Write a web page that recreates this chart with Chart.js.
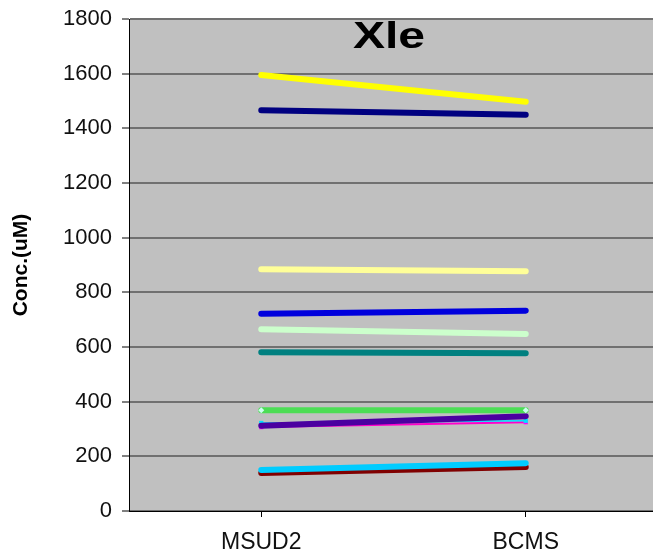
<!DOCTYPE html>
<html>
<head>
<meta charset="utf-8">
<script src="https://cdn.jsdelivr.net/npm/chart.js@4/dist/chart.umd.min.js"></script>
<style>
  html, body { margin: 0; padding: 0; background: #fff; overflow: hidden; }
  .wrap { width: 662px; height: 554px; position: relative; }
</style>
</head>
<body>
<div class="wrap"><canvas id="myChart"></canvas></div>
<script>
const groups = ['MSUD2', 'BCMS'];
const yTicks = [0, 200, 400, 600, 800, 1000, 1200, 1400, 1600, 1800];

// one pair of values per subject (MSUD2, BCMS)
const yellow = [1595, 1497];
const navy = [1466, 1450];
const paleYellow = [884, 877];
const blue = [722, 733];
const paleGreen = [665, 648];
const teal = [581, 577];
const green = [369, 369];
const purple = [312, 347];
const magenta = [307, 325];
const cyanThin = [322, 330];
const cyan = [150, 175];
const darkRed = [139, 161];

const bgPlugin = {
  id: 'bg',
  beforeDraw(chart) {
    const { ctx, chartArea: a } = chart;
    ctx.save();
    ctx.fillStyle = '#c0c0c0';
    ctx.fillRect(a.left, a.top, a.right - a.left, a.bottom - a.top);
    ctx.restore();
  },
  afterDraw(chart) {
    const ctx = chart.ctx;
    ctx.save();
    ctx.translate(389, 48);
    ctx.scale(1.3, 1);
    ctx.font = 'bold 37px "Liberation Sans", Arial, sans-serif';
    ctx.fillStyle = '#000';
    ctx.textAlign = 'center';
    ctx.textBaseline = 'alphabetic';
    ctx.fillText('Xle', 0, 0);
    ctx.restore();
  }
};

function line(values, color, width, extra) {
  return Object.assign({
    data: values,
    borderColor: color,
    backgroundColor: color,
    borderWidth: width,
    borderCapStyle: 'round',
    pointRadius: 0,
    tension: 0
  }, extra || {});
}

const data = {
  labels: groups,
  datasets: [
    line(yellow, '#ffff00', 6),
    line(navy, '#000080', 6),
    line(paleYellow, '#ffff99', 6),
    line(blue, '#0000dd', 6),
    line(paleGreen, '#ccffcc', 6),
    line(teal, '#008080', 6),
    line(green, '#4cdd55', 6, { pointRadius: 3, pointStyle: 'rectRot', pointBackgroundColor: '#ccffee', pointBorderWidth: 0 }),
    line(purple, '#4b00a0', 6),
    line(cyanThin, '#00e0ff', 1.5, { pointRadius: 3, pointStyle: 'rect', pointBackgroundColor: '#00e0ff', pointBorderWidth: 0 }),
    line(magenta, '#ff00cc', 2, { pointRadius: 3, pointStyle: 'rect', pointBackgroundColor: '#ff00ff', pointBorderWidth: 0 }),
    line(cyan, '#00ccff', 6),
    line(darkRed, '#800000', 6)
  ]
};

const options = {
  responsive: true,
  maintainAspectRatio: false,
  animation: false,
  layout: { padding: { top: 19, right: 1, left: 0, bottom: 0 } },
  plugins: {
    legend: { display: false },
    tooltip: { enabled: false }
  },
  scales: {
    x: {
      type: 'category',
      offset: true,
      afterFit: (s) => { s.height = 43; },
      border: { color: '#000', width: 1 },
      grid: { drawOnChartArea: false, tickLength: 6, tickColor: '#000' },
      ticks: {
        color: '#111',
        padding: 12,
        font: { family: '"Liberation Sans", Arial, sans-serif', size: 23 }
      }
    },
    y: {
      min: 0,
      max: 1800,
      afterFit: (s) => { s.width = 129; s.paddingTop = 0; s.paddingBottom = 0; },
      afterBuildTicks: (s) => { s.ticks = yTicks.map(v => ({ value: v })); },
      border: { color: '#000', width: 1 },
      grid: { color: '#707070', lineWidth: 2, tickLength: 7, tickColor: '#000', tickWidth: 1 },
      ticks: {
        color: '#111',
        padding: 10,
        callback: (v) => String(v),
        font: { family: '"Liberation Sans", Arial, sans-serif', size: 22 }
      },
      title: {
        display: true,
        text: 'Conc.(uM)',
        color: '#000',
        padding: { top: 9, bottom: 0 },
        font: { family: '"Liberation Sans", Arial, sans-serif', size: 21, weight: 'bold' }
      }
    }
  }
};

let myChart = document.getElementById('myChart').getContext('2d');
new Chart(myChart, { type: 'line', data: data, options: options, plugins: [bgPlugin] });
</script>
</body>
</html>
